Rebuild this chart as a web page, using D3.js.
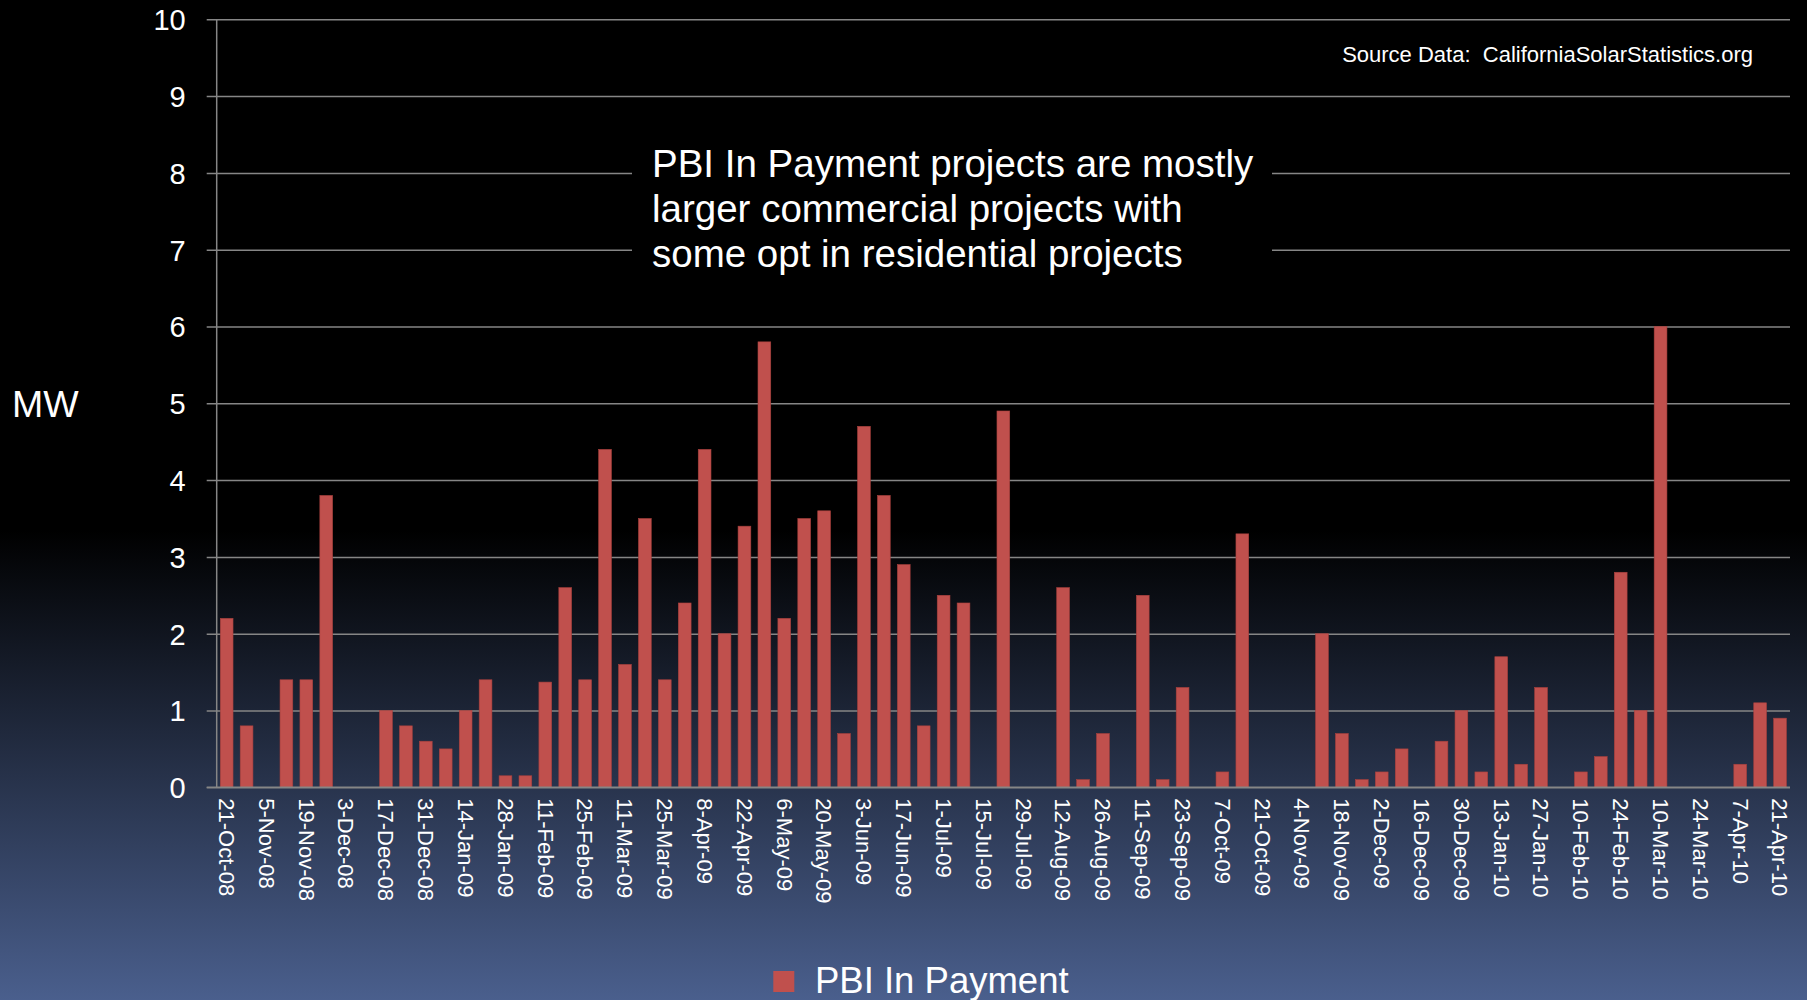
<!DOCTYPE html>
<html>
<head>
<meta charset="utf-8">
<script src="https://cdn.jsdelivr.net/npm/d3@7"></script>
<style>
  html, body { margin: 0; padding: 0; background: #000; }
  svg { display: block; }
  text { font-family: "Liberation Sans", Arial, Helvetica, sans-serif; fill: #fff; }
</style>
</head>
<body>
<svg id="chart" width="1807" height="1000"></svg>
<script>
// Weekly reporting dates (every other one is labelled on the axis)
const weeks = [
  "21-Oct-08","29-Oct-08","5-Nov-08","12-Nov-08","19-Nov-08","26-Nov-08","3-Dec-08","10-Dec-08",
  "17-Dec-08","24-Dec-08","31-Dec-08","7-Jan-09","14-Jan-09","21-Jan-09","28-Jan-09","4-Feb-09",
  "11-Feb-09","18-Feb-09","25-Feb-09","4-Mar-09","11-Mar-09","18-Mar-09","25-Mar-09","1-Apr-09",
  "8-Apr-09","15-Apr-09","22-Apr-09","29-Apr-09","6-May-09","13-May-09","20-May-09","27-May-09",
  "3-Jun-09","10-Jun-09","17-Jun-09","24-Jun-09","1-Jul-09","8-Jul-09","15-Jul-09","22-Jul-09",
  "29-Jul-09","5-Aug-09","12-Aug-09","19-Aug-09","26-Aug-09","2-Sep-09","11-Sep-09","16-Sep-09",
  "23-Sep-09","30-Sep-09","7-Oct-09","14-Oct-09","21-Oct-09","28-Oct-09","4-Nov-09","11-Nov-09",
  "18-Nov-09","25-Nov-09","2-Dec-09","9-Dec-09","16-Dec-09","23-Dec-09","30-Dec-09","6-Jan-10",
  "13-Jan-10","20-Jan-10","27-Jan-10","3-Feb-10","10-Feb-10","17-Feb-10","24-Feb-10","3-Mar-10",
  "10-Mar-10","17-Mar-10","24-Mar-10","31-Mar-10","7-Apr-10","14-Apr-10","21-Apr-10"
];

// MW of PBI In Payment projects per week
const pbiInPayment = [
  2.2, 0.8, 0, 1.4, 1.4, 3.8, 0, 0,
  1.0, 0.8, 0.6, 0.5, 1.0, 1.4, 0.15, 0.15,
  1.37, 2.6, 1.4, 4.4, 1.6, 3.5, 1.4, 2.4,
  4.4, 2.0, 3.4, 5.8, 2.2, 3.5, 3.6, 0.7,
  4.7, 3.8, 2.9, 0.8, 2.5, 2.4, 0, 4.9,
  0, 0, 2.6, 0.1, 0.7, 0, 2.5, 0.1,
  1.3, 0, 0.2, 3.3, 0, 0, 0, 2.0,
  0.7, 0.1, 0.2, 0.5, 0, 0.6, 1.0, 0.2,
  1.7, 0.3, 1.3, 0, 0.2, 0.4, 2.8, 1.0,
  6.0, 0, 0, 0, 0.3, 1.1, 0.9
];

const yTicks = [0, 1, 2, 3, 4, 5, 6, 7, 8, 9, 10];
const xTickLabels = weeks.filter((d, i) => i % 2 === 0);

const seriesName = "PBI In Payment";
const yAxisTitle = "MW";
const sourceNote = "Source Data:  CaliforniaSolarStatistics.org";
const noteLines = [
  "PBI In Payment projects are mostly",
  "larger commercial projects with",
  "some opt in residential projects"
];

const W = 1807, H = 1000;
const plot = { left: 216.7, right: 1790, top: 19.3, bottom: 787.3 };
const barColor = "#c0504d";
const gridColor = "#868686";

const svg = d3.select("#chart");

// Background: black fading to slate blue towards the bottom
const defs = svg.append("defs");
const grad = defs.append("linearGradient")
  .attr("id", "bg").attr("x1", 0).attr("y1", 0).attr("x2", 0).attr("y2", 1);
grad.append("stop").attr("offset", "0%").attr("stop-color", "#000");
grad.append("stop").attr("offset", "53%").attr("stop-color", "#000");
grad.append("stop").attr("offset", "100%").attr("stop-color", "#4a5f8d");
svg.append("rect").attr("width", W).attr("height", H).attr("fill", "url(#bg)");

const x = d3.scaleBand()
  .domain(weeks)
  .range([plot.left, plot.right])
  .paddingInner(0.36)
  .paddingOuter(0.18);

const y = d3.scaleLinear()
  .domain([0, 10])
  .range([plot.bottom, plot.top]);

// Horizontal gridlines with outward ticks and value labels
const yAxis = d3.axisLeft(y)
  .tickValues(yTicks)
  .tickFormat(d3.format("d"))
  .tickSize(-(plot.right - plot.left))
  .tickPadding(0);

const gy = svg.append("g")
  .attr("transform", `translate(${plot.left},0)`)
  .call(yAxis);
gy.select(".domain").remove();
gy.selectAll(".tick line")
  .attr("x1", -10)
  .attr("stroke", gridColor)
  .attr("stroke-width", 1.5);
gy.selectAll(".tick text")
  .attr("x", -31)
  .attr("dy", "0.36em")
  .style("font-size", "29px")
  .attr("fill", "#fff");

// Vertical axis line
svg.append("line")
  .attr("x1", plot.left).attr("x2", plot.left)
  .attr("y1", plot.top).attr("y2", plot.bottom)
  .attr("stroke", gridColor).attr("stroke-width", 1.5);

// Bars
svg.append("g")
  .selectAll("rect")
  .data(pbiInPayment.map((v, i) => ({ week: weeks[i], value: v })))
  .join("rect")
  .attr("x", d => x(d.week))
  .attr("width", x.bandwidth())
  .attr("y", d => y(d.value))
  .attr("height", d => y(0) - y(d.value))
  .attr("fill", barColor)
  .attr("stroke", "#a8403d")
  .attr("stroke-width", 0.6);

// Category axis with rotated date labels
const xAxis = d3.axisBottom(x)
  .tickValues(xTickLabels)
  .tickSize(0)
  .tickPadding(0);

const gx = svg.append("g")
  .attr("transform", `translate(0,${plot.bottom})`)
  .call(xAxis);
gx.select(".domain").remove();
gx.selectAll(".tick text")
  .attr("transform", "rotate(90)")
  .attr("x", 11)
  .attr("y", 0)
  .attr("dy", "0.35em")
  .attr("text-anchor", "start")
  .style("font-size", "22px")
  .attr("fill", "#fff");

// Baseline
svg.append("line")
  .attr("x1", plot.left - 10).attr("x2", plot.right)
  .attr("y1", y(0)).attr("y2", y(0))
  .attr("stroke", gridColor).attr("stroke-width", 1.5);

// Y axis title
svg.append("text")
  .attr("x", 12)
  .attr("y", (plot.top + plot.bottom) / 2 + 13.5)
  .style("font-size", "37.5px")
  .text(yAxisTitle);

// Source note
svg.append("text")
  .attr("x", 1753)
  .attr("y", 61.5)
  .attr("text-anchor", "end")
  .style("font-size", "22px")
  .style("white-space", "pre")
  .attr("xml:space", "preserve")
  .text(sourceNote);

// Annotation on a black panel
svg.append("rect")
  .attr("x", 632).attr("y", 130)
  .attr("width", 640).attr("height", 160)
  .attr("fill", "#000");
svg.append("g")
  .selectAll("text")
  .data(noteLines)
  .join("text")
  .attr("x", 652)
  .attr("y", (d, i) => 177.3 + i * 44.6)
  .style("font-size", "38.5px")
  .text(d => d);

// Legend
const legend = svg.append("g");
legend.append("rect")
  .attr("x", 773.3).attr("y", 971)
  .attr("width", 21).attr("height", 21)
  .attr("fill", barColor);
legend.append("text")
  .attr("x", 815)
  .attr("y", 992.7)
  .style("font-size", "36.5px")
  .text(seriesName);
</script>
</body>
</html>
